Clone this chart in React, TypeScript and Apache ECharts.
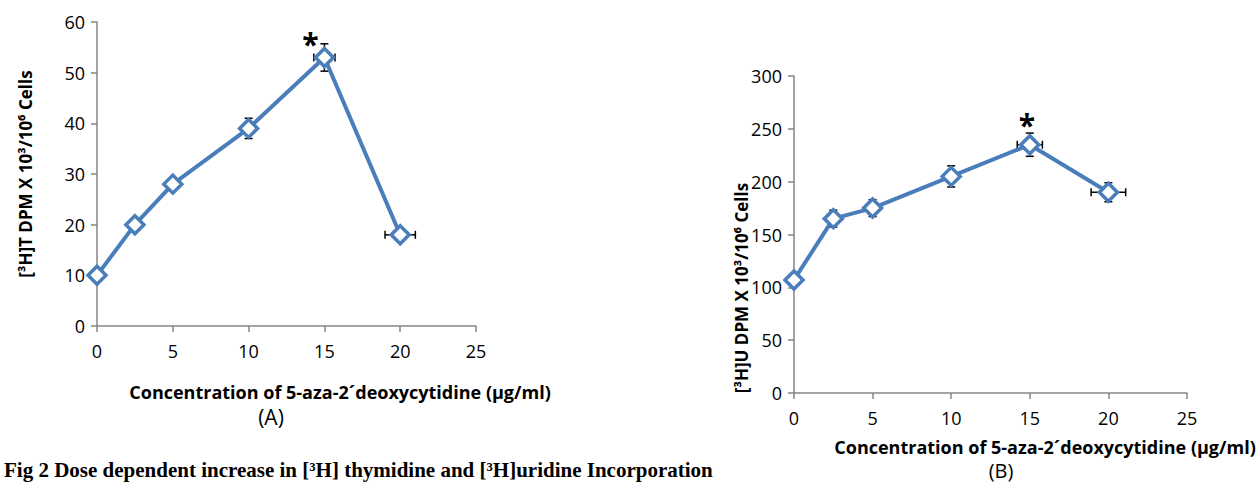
import React, { useEffect, useRef } from "react";
import * as echarts from "echarts";

const concentrations = [0, 2.5, 5, 10, 15, 20];
const xTicks = [0, 5, 10, 15, 20, 25];
const thymidine = [10, 20, 28, 39, 53, 18];
const thymidineErrY = [0.6, 0.8, 1, 2, 2.7, 0.6];
const thymidineErrX = [0, 0, 0, 0, 0.7, 1];
const uridine = [107, 165, 175, 205, 235, 190];
const uridineErrY = [3, 8, 8, 10, 11, 9];
const uridineErrX = [0, 0, 0, 0, 0.8, 1.1];
const significantA = [15, 53];
const significantB = [15, 235];

const BLUE = "#4a7ebb";
const AXIS = "#868686";
const SANS = "'Open Sans', 'Noto Sans', sans-serif";

function errorRender(params: any, api: any) {
  const x = api.value(0);
  const y = api.value(1);
  const ex = api.value(2);
  const ey = api.value(3);
  const children: any[] = [];
  const st = { stroke: "#000", lineWidth: 1.5 };
  const cap = 4;
  if (ey > 0) {
    const t = api.coord([x, y + ey]);
    const b = api.coord([x, y - ey]);
    children.push({ type: "line", shape: { x1: t[0], y1: t[1], x2: b[0], y2: b[1] }, style: st });
    children.push({ type: "line", shape: { x1: t[0] - cap, y1: t[1], x2: t[0] + cap, y2: t[1] }, style: st });
    children.push({ type: "line", shape: { x1: b[0] - cap, y1: b[1], x2: b[0] + cap, y2: b[1] }, style: st });
  }
  if (ex > 0) {
    const l = api.coord([x - ex, y]);
    const r = api.coord([x + ex, y]);
    children.push({ type: "line", shape: { x1: l[0], y1: l[1], x2: r[0], y2: r[1] }, style: st });
    children.push({ type: "line", shape: { x1: l[0], y1: l[1] - cap, x2: l[0], y2: l[1] + cap }, style: st });
    children.push({ type: "line", shape: { x1: r[0], y1: r[1] - cap, x2: r[0], y2: r[1] + cap }, style: st });
  }
  return { type: "group", children };
}

export default function App() {
  const ref = useRef<HTMLDivElement>(null);
  useEffect(() => {
    document.body.style.margin = "0";
    const chart = echarts.init(ref.current!, null, { renderer: "svg" });
    const xAxisBase = (gridIndex: number, margin: number) => ({
      type: "value",
      gridIndex,
      min: xTicks[0],
      max: xTicks[xTicks.length - 1],
      interval: 5,
      axisLine: { show: true, lineStyle: { color: AXIS, width: 1.5 } },
      axisTick: { show: true, length: 6, lineStyle: { color: AXIS, width: 1.5 } },
      splitLine: { show: false },
      axisLabel: { color: "#000", fontSize: 18, fontFamily: SANS, margin },
    });
    const yAxisBase = (gridIndex: number, max: number, interval: number) => ({
      type: "value",
      gridIndex,
      min: 0,
      max,
      interval,
      axisLine: { show: true, lineStyle: { color: AXIS, width: 1.5 } },
      axisTick: { show: true, length: 6, lineStyle: { color: AXIS, width: 1.5 } },
      splitLine: { show: false },
      axisLabel: { color: "#000", fontSize: 18, fontFamily: SANS, margin: 12 },
    });
    const lineSeries = (idx: number, ys: number[], mark: number[], offset: number[]) => ({
      type: "line",
      xAxisIndex: idx,
      yAxisIndex: idx,
      data: concentrations.map((c, i) => [c, ys[i]]),
      symbol: "diamond",
      symbolSize: 18,
      showAllSymbol: true,
      z: 3,
      lineStyle: { color: BLUE, width: 4 },
      itemStyle: { color: "#fff", borderColor: BLUE, borderWidth: 3.5 },
      markPoint: {
        symbol: "circle",
        symbolSize: 0,
        data: [{ coord: mark }],
        label: {
          show: true,
          formatter: "*",
          color: "#000",
          fontSize: 30,
          fontWeight: "bold",
          fontFamily: SANS,
          offset,
        },
      },
    });
    const errSeries = (idx: number, ys: number[], ex: number[], ey: number[]) => ({
      type: "custom",
      xAxisIndex: idx,
      yAxisIndex: idx,
      z: 2,
      renderItem: errorRender,
      data: concentrations.map((c, i) => [c, ys[i], ex[i], ey[i]]),
    });
    const yTitleFont = `bold 17px ${SANS}`;
    const xTitleFont = `bold 18px ${SANS}`;
    chart.setOption({
      animation: false,
      grid: [
        { left: 97, top: 22, width: 379, height: 304 },
        { left: 794, top: 76, width: 393, height: 317 },
      ],
      xAxis: [xAxisBase(0, 16), xAxisBase(1, 16)],
      yAxis: [yAxisBase(0, 60, 10), yAxisBase(1, 300, 50)],
      series: [
        errSeries(0, thymidine, thymidineErrX, thymidineErrY),
        lineSeries(0, thymidine, significantA, [-14, -14]),
        errSeries(1, uridine, uridineErrX, uridineErrY),
        lineSeries(1, uridine, significantB, [-3, -20]),
      ],
      graphic: [
        {
          type: "text",
          x: 25,
          y: 174,
          rotation: Math.PI / 2,
          style: { text: "[³H]T DPM X 10³/10⁶ Cells", align: "center", verticalAlign: "middle", font: yTitleFont, fill: "#000" },
        },
        {
          type: "text",
          x: 741,
          y: 288,
          rotation: Math.PI / 2,
          style: { text: "[³H]U DPM X 10³/10⁶ Cells", align: "center", verticalAlign: "middle", font: yTitleFont, fill: "#000" },
        },
        {
          type: "text",
          x: 340,
          y: 392,
          style: { text: "Concentration of 5-aza-2´deoxycytidine (µg/ml)", align: "center", verticalAlign: "middle", font: xTitleFont, fill: "#000" },
        },
        {
          type: "text",
          x: 1045,
          y: 447,
          style: { text: "Concentration of 5-aza-2´deoxycytidine (µg/ml)", align: "center", verticalAlign: "middle", font: xTitleFont, fill: "#000" },
        },
        {
          type: "text",
          x: 271,
          y: 417,
          style: { text: "(A)", align: "center", verticalAlign: "middle", font: `21px ${SANS}`, fill: "#000" },
        },
        {
          type: "text",
          x: 1001,
          y: 470,
          style: { text: "(B)", align: "center", verticalAlign: "middle", font: `20px ${SANS}`, fill: "#000" },
        },
        {
          type: "text",
          x: 4,
          y: 459,
          style: { text: "Fig 2 Dose dependent increase in [³H] thymidine and [³H]uridine Incorporation", align: "left", verticalAlign: "top", font: `bold 21px 'Liberation Serif', serif`, fill: "#000" },
        },
      ],
    });
    return () => chart.dispose();
  }, []);
  return <div ref={ref} style={{ width: 1259, height: 482 }} />;
}
